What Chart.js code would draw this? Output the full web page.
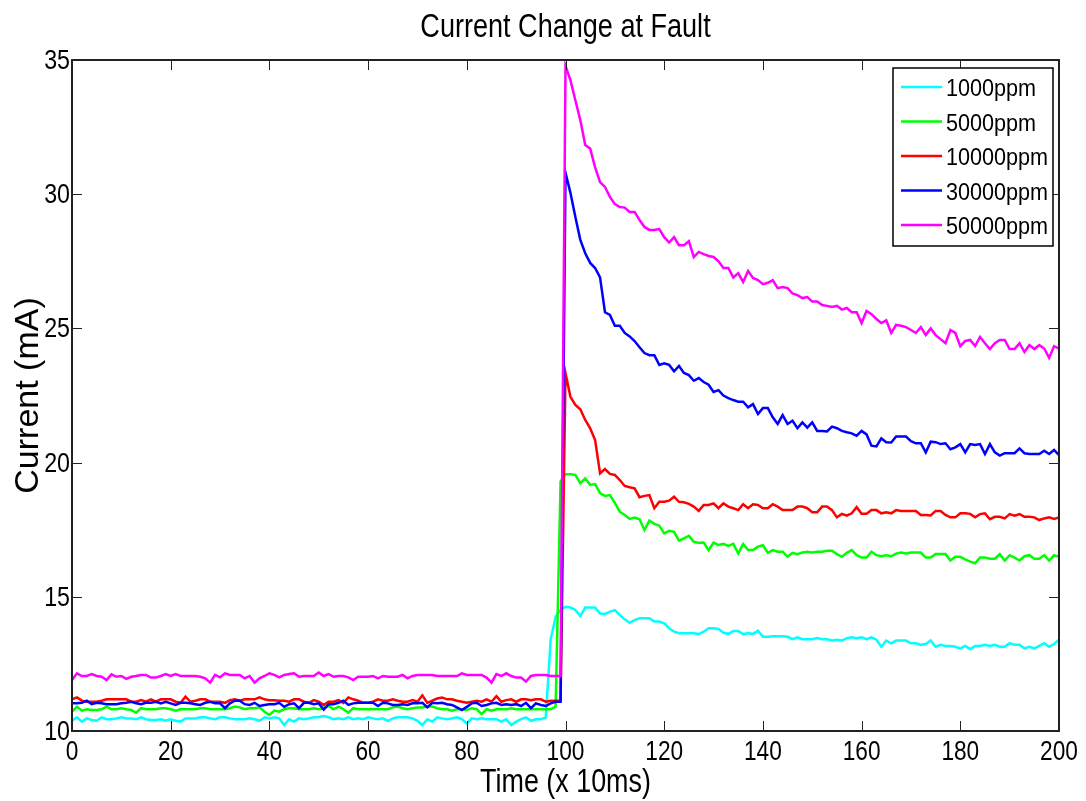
<!DOCTYPE html>
<html>
<head>
<meta charset="utf-8">
<script src="https://cdn.jsdelivr.net/npm/chart.js@4.4.0/dist/chart.umd.min.js"></script>
<style>
    html, body { margin: 0; padding: 0; background: #fff; }
</style>
</head>
<body>
<canvas id="chartFault" width="1086" height="801"></canvas>
<script>
// sample index, one reading every 10 ms
const time = Array.from({ length: 201 }, (_, i) => i);

const seriesNames = ['1000ppm', '5000ppm', '10000ppm', '30000ppm', '50000ppm'];
const seriesColors = ['#00ffff', '#00ff00', '#ff0000', '#0000ff', '#ff00ff'];

const ppm1000 = [
    10.38, 10.51, 10.35, 10.47, 10.41, 10.38, 10.51, 10.44, 10.44, 10.47, 10.51, 10.47, 10.47, 10.44, 10.51, 10.44, 10.41, 10.41, 10.44, 10.38,
    10.44, 10.38, 10.35, 10.47, 10.47, 10.47, 10.51, 10.51, 10.47, 10.44, 10.51, 10.51, 10.47, 10.44,
    10.44, 10.44, 10.47, 10.44, 10.38, 10.51, 10.47, 10.51, 10.47, 10.22, 10.44, 10.35, 10.47, 10.44, 10.47, 10.51, 10.51, 10.56, 10.51, 10.44,
    10.47, 10.44, 10.51, 10.44, 10.47, 10.44, 10.51, 10.47, 10.44, 10.47, 10.38, 10.47, 10.51, 10.51,
    10.51, 10.47, 10.38, 10.22, 10.44, 10.35, 10.51, 10.47, 10.44, 10.47, 10.51, 10.44, 10.28, 10.47, 10.44, 10.47, 10.44, 10.44, 10.44, 10.35,
    10.44, 10.22, 10.35, 10.44, 10.51, 10.38, 10.44, 10.44, 10.50, 13.42, 14.26, 14.51,
    14.63, 14.60, 14.51, 14.28, 14.60, 14.60, 14.60, 14.38, 14.36, 14.45, 14.50, 14.32, 14.16, 14.03, 14.13, 14.20, 14.20, 14.20, 14.08, 14.08,
    14.01, 13.83, 13.70, 13.64, 13.64, 13.64, 13.64, 13.61,
    13.70, 13.83, 13.83, 13.80, 13.66, 13.62, 13.73, 13.73, 13.61, 13.64, 13.62, 13.74, 13.51, 13.51, 13.53, 13.53, 13.53, 13.51, 13.42, 13.49,
    13.42, 13.42, 13.42, 13.46, 13.42, 13.42, 13.37, 13.40, 13.37, 13.46, 13.49, 13.46, 13.49, 13.42, 13.49, 13.40, 13.14, 13.37, 13.27, 13.37,
    13.37, 13.37, 13.27, 13.27, 13.21, 13.24, 13.37, 13.14, 13.21, 13.17, 13.17, 13.14, 13.08, 13.17, 13.05, 13.17, 13.17, 13.21, 13.17, 13.21,
    13.14, 13.14, 13.27, 13.21, 13.21, 13.08, 13.14, 13.08, 13.17, 13.27, 13.14, 13.24, 13.40
];
const ppm5000 = [
    10.72, 10.91, 10.76, 10.81, 10.78, 10.78, 10.81, 10.91, 10.81, 10.81, 10.85, 10.81, 10.78, 10.68, 10.85, 10.81, 10.81, 10.81, 10.85, 10.85,
    10.81, 10.76, 10.81, 10.81, 10.81, 10.81, 10.85, 10.85, 10.81, 10.81, 10.81, 10.81, 10.85, 10.91,
    10.88, 10.81, 10.85, 10.85, 10.88, 10.72, 10.60, 10.76, 10.72, 10.81, 10.85, 10.85, 10.81, 10.81, 10.81, 10.85, 10.81, 10.85, 10.94, 10.81,
    10.91, 10.81, 10.68, 10.85, 10.81, 10.81, 10.81, 10.81, 10.81, 10.81, 10.81, 10.88, 10.91, 10.85,
    10.81, 10.85, 10.88, 10.88, 10.91, 10.91, 10.85, 10.81, 10.81, 10.76, 10.81, 10.81, 10.78, 10.85, 10.81, 10.63, 10.81, 10.76, 10.81, 10.81,
    10.81, 10.85, 10.81, 10.81, 10.81, 10.81, 10.81, 10.81, 10.81, 10.81, 10.91, 19.30,
    19.57, 19.57, 19.54, 19.23, 19.41, 19.17, 19.20, 18.86, 18.76, 18.79, 18.50, 18.17, 18.05, 17.90, 17.95, 17.89, 17.49, 17.84, 17.72, 17.65,
    17.36, 17.46, 17.42, 17.09, 17.18, 17.27, 17.05, 17.01,
    17.02, 16.74, 17.02, 16.93, 16.97, 16.90, 16.97, 16.61, 16.97, 16.74, 16.74, 16.87, 16.92, 16.64, 16.74, 16.68, 16.68, 16.49, 16.64, 16.59,
    16.65, 16.68, 16.65, 16.68, 16.68, 16.72, 16.72, 16.59, 16.49, 16.64, 16.74, 16.55, 16.46, 16.46, 16.68, 16.55, 16.51, 16.55, 16.51, 16.61,
    16.65, 16.61, 16.65, 16.65, 16.65, 16.46, 16.46, 16.59, 16.59, 16.59, 16.35, 16.49, 16.49, 16.39, 16.31, 16.25, 16.46, 16.46, 16.42, 16.42,
    16.59, 16.35, 16.55, 16.46, 16.35, 16.51, 16.55, 16.42, 16.42, 16.55, 16.35, 16.55, 16.49
];
const ppm10000 = [
    11.18, 11.25, 11.13, 11.09, 11.09, 11.09, 11.13, 11.18, 11.18, 11.18, 11.18, 11.18, 11.09, 11.09, 11.15, 11.09, 11.18, 11.09, 11.18, 11.18,
    11.18, 11.09, 11.05, 11.28, 11.09, 11.13, 11.18, 11.18, 11.09, 11.09, 11.09, 11.05, 11.15, 11.18,
    11.13, 11.18, 11.18, 11.18, 11.25, 11.18, 11.15, 11.15, 11.13, 11.13, 11.09, 11.18, 11.18, 11.09, 11.05, 11.15, 11.09, 10.97, 11.09, 11.09,
    11.15, 11.05, 11.25, 11.18, 11.13, 11.05, 11.05, 11.09, 11.18, 11.13, 11.13, 11.18, 11.13, 11.09,
    11.09, 11.15, 11.09, 11.33, 11.05, 11.13, 11.21, 11.25, 11.18, 11.18, 11.13, 11.09, 11.05, 11.09, 11.13, 11.09, 11.18, 11.09, 11.30, 11.09,
    11.15, 11.18, 11.09, 11.18, 11.18, 11.15, 11.18, 11.18, 11.09, 11.13, 11.13, 11.13,
    23.33, 22.45, 22.15, 21.99, 21.59, 21.28, 20.84, 19.60, 19.76, 19.58, 19.54, 19.35, 19.13, 19.08, 19.04, 18.71, 18.76, 18.79, 18.30, 18.54,
    18.54, 18.58, 18.73, 18.54, 18.52, 18.46, 18.36, 18.20,
    18.42, 18.42, 18.48, 18.30, 18.48, 18.36, 18.30, 18.23, 18.45, 18.30, 18.45, 18.42, 18.30, 18.30, 18.45, 18.36, 18.23, 18.23, 18.23, 18.36,
    18.36, 18.30, 18.15, 18.15, 18.36, 18.36, 18.23, 17.96, 18.09, 18.02, 18.11, 18.34, 18.09, 18.09, 18.23, 18.23, 18.11, 18.15, 18.11, 18.23,
    18.20, 18.20, 18.20, 18.20, 18.05, 18.05, 18.03, 18.20, 18.20, 18.05, 17.96, 17.96, 18.11, 18.11, 18.09, 17.96, 18.08, 18.11, 17.89, 17.98,
    17.98, 17.92, 18.08, 18.02, 18.08, 17.98, 17.98, 17.96, 17.86, 17.92, 17.96, 17.90, 17.96
];
const ppm30000 = [
    11.03, 11.03, 11.05, 11.13, 11.00, 11.05, 11.03, 11.00, 11.00, 11.00, 11.03, 11.05, 11.09, 11.03, 11.00, 11.05, 11.05, 11.09, 11.03, 11.09,
    11.03, 10.97, 11.05, 11.05, 11.03, 11.00, 10.97, 11.05, 11.09, 11.03, 11.03, 10.85, 11.03, 11.13,
    11.13, 11.00, 10.97, 11.05, 10.93, 10.97, 11.00, 11.00, 11.05, 10.90, 11.00, 11.03, 10.85, 11.05, 11.05, 11.00, 11.03, 10.80, 11.00, 11.00,
    11.05, 11.13, 10.97, 11.03, 11.05, 11.05, 11.05, 11.05, 10.93, 11.05, 11.03, 10.97, 10.97, 11.00,
    10.97, 11.03, 11.03, 11.05, 10.88, 11.05, 11.03, 11.05, 11.00, 10.97, 10.88, 10.78, 10.90, 11.03, 11.05, 10.93, 10.97, 11.03, 11.05, 10.97,
    11.00, 10.97, 11.00, 10.93, 11.05, 10.85, 11.03, 10.97, 10.93, 11.03, 11.09, 11.09,
    30.80, 30.05, 29.15, 28.30, 27.80, 27.44, 27.25, 26.90, 25.60, 25.50, 25.10, 25.10, 24.83, 24.70, 24.53, 24.30, 24.08, 24.00, 24.00, 23.64,
    23.70, 23.64, 23.40, 23.60, 23.34, 23.26, 23.05, 23.15, 23.00, 22.90, 22.63, 22.70, 22.50, 22.40,
    22.33, 22.27, 22.27, 22.06, 22.18, 21.81, 22.03, 22.03, 21.69, 21.44, 21.77, 21.44, 21.56, 21.28, 21.50, 21.30, 21.50, 21.18, 21.18, 21.16,
    21.34, 21.28, 21.18, 21.13, 21.09, 21.00, 21.18, 21.05, 20.63, 20.60, 20.90, 20.76, 20.75, 20.97, 20.97, 20.97, 20.80, 20.72, 20.72, 20.38,
    20.78, 20.76, 20.69, 20.72, 20.50, 20.57, 20.69, 20.38, 20.69, 20.66, 20.69, 20.32, 20.69, 20.38, 20.26, 20.35, 20.35, 20.35, 20.53, 20.35,
    20.32, 20.32, 20.32, 20.44, 20.32, 20.47, 20.28
];
const ppm50000 = [
    11.90, 12.15, 12.05, 12.05, 12.12, 12.05, 12.02, 11.90, 12.11, 12.02, 12.05, 11.94, 12.02, 12.05, 12.09, 12.09, 11.99, 11.99, 12.05, 12.12,
    12.05, 12.12, 12.05, 12.05, 12.05, 12.05, 12.02, 11.96, 11.80, 12.09, 12.00, 12.15, 12.09, 12.09,
    12.09, 11.96, 12.05, 11.80, 11.96, 12.05, 12.15, 12.09, 12.00, 12.09, 12.12, 12.15, 12.02, 12.05, 12.05, 12.05, 12.18, 12.05, 12.12, 12.02,
    12.05, 12.05, 12.00, 11.90, 12.02, 12.02, 12.02, 12.05, 11.96, 12.05, 12.02, 12.02, 12.02, 12.09,
    11.96, 12.05, 12.09, 12.09, 12.09, 12.09, 12.05, 12.05, 12.05, 12.05, 12.05, 12.15, 12.09, 12.09, 12.09, 12.09, 11.99, 11.80, 12.12, 12.05,
    12.15, 12.05, 11.99, 11.99, 11.84, 12.05, 12.09, 12.09, 12.09, 12.05, 12.05, 12.05,
    34.78, 34.25, 33.50, 32.76, 31.83, 31.70, 31.00, 30.45, 30.27, 29.90, 29.63, 29.52, 29.50, 29.34, 29.34, 29.04, 28.78, 28.67, 28.67, 28.70,
    28.40, 28.20, 28.40, 28.10, 28.10, 28.25, 27.66, 27.85, 27.77, 27.70, 27.66, 27.50,
    27.25, 27.25, 26.90, 27.06, 26.73, 27.14, 26.88, 26.80, 26.65, 26.70, 26.80, 26.50, 26.54, 26.50, 26.30, 26.24, 26.13, 26.17, 26.00, 26.00,
    25.87, 25.84, 25.80, 25.84, 25.70, 25.76, 25.60, 25.60, 25.20, 25.65, 25.53, 25.35, 25.20, 25.30, 24.83, 25.13, 25.10, 25.05, 24.94, 24.83,
    25.05, 24.75, 25.00, 24.75, 24.60, 24.45, 24.94, 24.83, 24.34, 24.53, 24.57, 24.34, 24.68, 24.45, 24.23, 24.45, 24.57, 24.57, 24.23, 24.23,
    24.45, 24.12, 24.38, 24.23, 24.38, 24.25, 23.90, 24.34, 24.25
];

const seriesValues = [ppm1000, ppm5000, ppm10000, ppm30000, ppm50000];

const xTicks = [0, 20, 40, 60, 80, 100, 120, 140, 160, 180, 200];
const yTicks = [10, 15, 20, 25, 30, 35];

const chartTitle = 'Current Change at Fault';
const xTitle = 'Time (x 10ms)';
const yTitle = 'Current (mA)';

const plainFont = '"Liberation Sans", Arial, Helvetica, sans-serif';

// the original export squeezes horizontal text, so draw it narrowed
function narrowText(ctx, text, x, y, size, sx, align) {
    ctx.save();
    ctx.translate(x, y);
    ctx.scale(sx, 1);
    ctx.font = size + 'px ' + plainFont;
    ctx.textAlign = align;
    ctx.textBaseline = 'alphabetic';
    ctx.fillStyle = '#000';
    ctx.fillText(text, 0, 0);
    ctx.restore();
}

// MATLAB style box with inward ticks on all four sides, plus the squeezed labels
const boxAxes = {
    id: 'boxAxes',
    afterDatasetsDraw(chart) {
        const { ctx, chartArea: a, scales } = chart;
        const len = 10;
        ctx.save();
        ctx.strokeStyle = '#222';
        ctx.lineWidth = 1;
        ctx.beginPath();
        xTicks.forEach(v => {
            const px = Math.round(scales.x.getPixelForValue(v)) + 0.5;
            ctx.moveTo(px, a.bottom); ctx.lineTo(px, a.bottom - len);
            ctx.moveTo(px, a.top); ctx.lineTo(px, a.top + len);
        });
        yTicks.forEach(v => {
            const py = Math.round(scales.y.getPixelForValue(v)) + 0.5;
            ctx.moveTo(a.left, py); ctx.lineTo(a.left + len, py);
            ctx.moveTo(a.right, py); ctx.lineTo(a.right - len, py);
        });
        ctx.stroke();
        ctx.lineWidth = 2;
        ctx.strokeRect(a.left, a.top, a.right - a.left, a.bottom - a.top);
        ctx.restore();

        xTicks.forEach(v => {
            narrowText(ctx, String(v), scales.x.getPixelForValue(v), a.bottom + 29, 27, 0.84, 'center');
        });
        yTicks.forEach(v => {
            narrowText(ctx, String(v), a.left - 2, scales.y.getPixelForValue(v) + 9, 27, 0.86, 'right');
        });
        const cx = (a.left + a.right) / 2;
        narrowText(ctx, chartTitle, cx, 37, 33, 0.82, 'center');
        narrowText(ctx, xTitle, cx, 792, 33, 0.815, 'center');
    }
};

// legend drawn in a framed box, top-right inside the axes
const boxLegend = {
    id: 'boxLegend',
    afterDraw(chart) {
        const { ctx, chartArea: a } = chart;
        const w = 160, h = 178;
        const left = a.right - 6 - w, top = a.top + 8;
        ctx.save();
        ctx.fillStyle = '#fff';
        ctx.fillRect(left, top, w, h);
        ctx.strokeStyle = '#000';
        ctx.lineWidth = 1.5;
        ctx.strokeRect(left, top, w, h);
        seriesNames.forEach((name, i) => {
            const y = top + 19 + i * 34.5;
            ctx.strokeStyle = seriesColors[i];
            ctx.lineWidth = 2.5;
            ctx.beginPath();
            ctx.moveTo(left + 8, y);
            ctx.lineTo(left + 49, y);
            ctx.stroke();
            narrowText(ctx, name, left + 53, y + 9, 24, 0.9, 'left');
        });
        ctx.restore();
    }
};

const datasets = seriesNames.map((name, i) => ({
    label: name,
    data: time.map((t, k) => ({ x: t, y: seriesValues[i][k] })),
    borderColor: seriesColors[i],
    backgroundColor: seriesColors[i],
    borderWidth: 2.5,
    pointRadius: 0,
    tension: 0,
    order: seriesNames.length - i
}));

var chartFault = new Chart(document.getElementById('chartFault'), {
    type: 'line',
    data: { datasets },
    options: {
        responsive: false,
        animation: false,
        events: [],
        layout: { padding: { left: 0, right: 27, top: 60, bottom: 0 } },
        plugins: {
            legend: { display: false },
            tooltip: { enabled: false },
            title: { display: false }
        },
        scales: {
            x: {
                type: 'linear',
                min: 0,
                max: 200,
                afterFit: s => { s.height = 70; },
                grid: { display: false },
                border: { display: false },
                ticks: { display: false }
            },
            y: {
                type: 'linear',
                min: 10,
                max: 35,
                afterFit: s => { s.width = 72; },
                grid: { display: false },
                border: { display: false },
                ticks: { display: false },
                title: {
                    display: true,
                    text: yTitle,
                    color: '#000',
                    font: { family: plainFont, size: 34 },
                    padding: { top: 8, bottom: 0 }
                }
            }
        }
    },
    plugins: [boxAxes, boxLegend]
});
</script>
</body>
</html>
